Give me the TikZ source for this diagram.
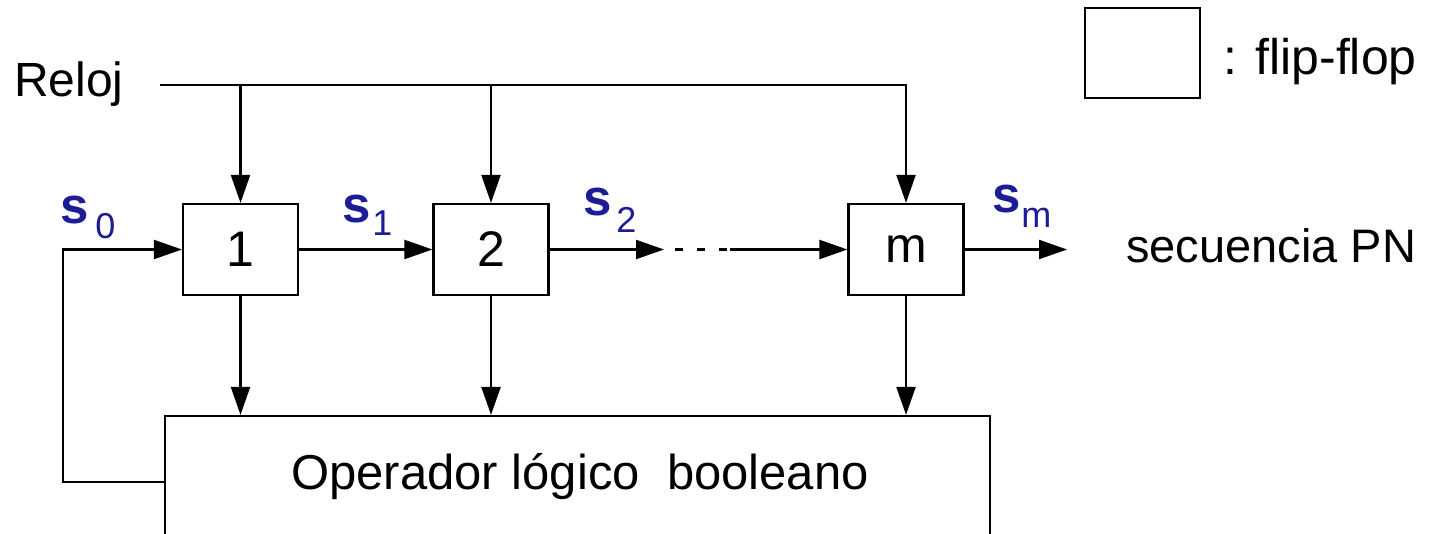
\documentclass[tikz,border=0pt]{standalone}
\usepackage{fontspec}
\setmainfont{Liberation Sans}
\usetikzlibrary{arrows.meta}
\definecolor{sblue}{RGB}{28,28,150}
\newcommand{\fsz}[1]{\fontsize{#1}{#1}\selectfont}
\newcommand{\slabel}[3]{{\fsz{51}\bfseries s}\kern#2{\raisebox{-#3}{\fsz{36}\mdseries #1}}}
\begin{document}
\begin{tikzpicture}[x=1pt,y=-1pt,line width=2.2pt,
  ff/.style={draw, minimum width=115pt, minimum height=91pt, inner sep=0pt, font=\fsz{50}},
  arr/.style={-{Triangle[length=28pt,width=19pt]}},
  slab/.style={text=sblue, inner sep=0pt, anchor=base west},
  txt/.style={inner sep=0pt, anchor=base west}]
\useasboundingbox (0,0) rectangle (1453,533);
\clip (0,0) rectangle (1453,533);

% flip-flops
\node[ff] (b1) at (240.5,249.5) {1};
\node[ff] (b2) at (491,249.5) {2};
\node[ff] (bm) at (906,249.5) {m};

% boolean operator box (bottom cut off)
\node[draw, minimum width=825pt, minimum height=160pt, inner sep=0pt] (op) at (577.5,496) {};
\node[inner sep=0pt, anchor=base, font=\fsz{49}] (optxt) at (580,489) {Operador lógico\ \ booleano};

% legend
\node[draw, minimum width=115pt, minimum height=90pt, inner sep=0pt] (leg) at (1142.5,53) {};
\node[txt, font=\fsz{50}] (legtxt) at (1222,74) {: flip-flop};

% clock
\node[txt, font=\fsz{48}] (reloj) at (13,96) {Reloj};
\coordinate (clk) at (160,85);
\draw[arr] (clk) -| (bm.north);
\draw[arr] (b1.north |- clk) -- (b1.north);
\draw[arr] (b2.north |- clk) -- (b2.north);

% chain
\draw[arr] (b1.east) -- (b2.west);
\coordinate (d1) at (664,249.5);
\coordinate (d2) at (730,249.5);
\draw[arr] (b2.east) -- (d1);
\draw[dash pattern=on 8pt off 14pt] ([xshift=11pt]d1) -- ([xshift=-3pt]d2);
\draw[arr] (d2) -- (bm.west);
\coordinate (out) at (1067,249.5);
\draw[arr] (bm.east) -- (out);
\node[txt, font=\fsz{47}] (seq) at (1125,262) {secuencia PN};

% outputs into operator
\draw[arr] (b1.south) -- (b1.south |- op.north);
\draw[arr] (b2.south) -- (b2.south |- op.north);
\draw[arr] (bm.south) -- (bm.south |- op.north);

% feedback
\coordinate (fb) at (63,482);
\draw[arr] (op.west |- fb) -- (fb) |- (b1.west);

% labels
\node[slab] (s0) at (59,223) {\slabel{0}{7pt}{15pt}};
\node[slab] (s1) at (341,222) {\slabel{1}{2pt}{13pt}};
\node[slab] (s2) at (582,215) {\slabel{2}{5pt}{17pt}};
\node[slab] (sm) at (991,212) {\slabel{m}{1pt}{15pt}};
\end{tikzpicture}
\end{document}
